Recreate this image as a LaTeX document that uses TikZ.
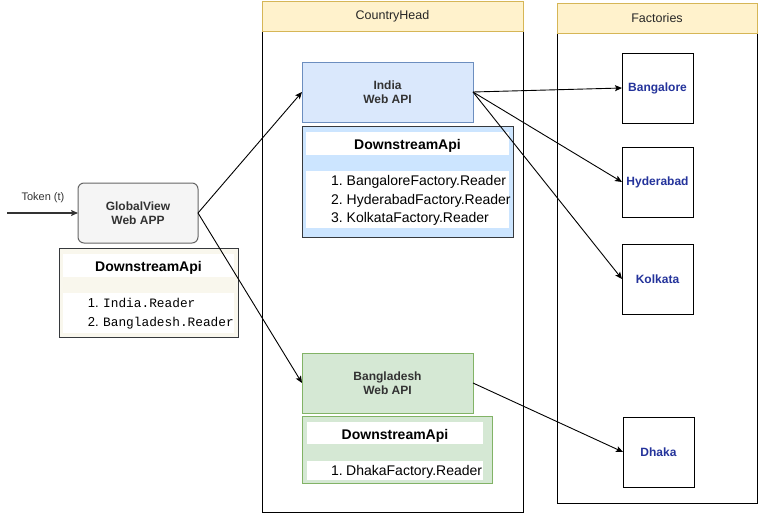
\documentclass[tikz,border=0pt]{standalone}
\usepackage{fontspec}
\setmainfont{Liberation Sans}
\newfontfamily\monof{Liberation Mono}
\usetikzlibrary{arrows.meta}
\definecolor{hdrfill}{HTML}{FFF2CC}
\definecolor{hdrline}{HTML}{D6B656}
\definecolor{gvfill}{HTML}{F5F5F5}
\definecolor{gvline}{HTML}{666666}
\definecolor{gvtext}{HTML}{333333}
\definecolor{beige}{HTML}{F9F7ED}
\definecolor{darkline}{HTML}{36393D}
\definecolor{bluefill}{HTML}{DAE8FC}
\definecolor{blueline}{HTML}{6C8EBF}
\definecolor{bluepanel}{HTML}{CCE5FF}
\definecolor{greenfill}{HTML}{D5E8D4}
\definecolor{greenline}{HTML}{82B366}
\definecolor{factext}{HTML}{24339B}
\tikzset{
  rectbox/.style={anchor=north west, inner sep=0pt, outer sep=0pt, line width=1pt},
  strip/.style={anchor=north west, inner sep=0pt, outer sep=0pt, fill=white, draw=none},
  lbl/.style={inner sep=0pt, align=center, font=\fontsize{12}{14}\selectfont\bfseries},
  hdrtxt/.style={inner sep=0pt, font=\fontsize{12.5}{14}\selectfont, text=black!85},
  dsapi/.style={inner sep=0pt, font=\fontsize{14}{16}\selectfont\bfseries},
  itemnum/.style={inner sep=0pt, anchor=mid east, font=\fontsize{14}{16}\selectfont},
  itemtxt/.style={inner sep=0pt, anchor=mid west, font=\fontsize{14}{16}\selectfont},
  facbox/.style={rectbox, draw=black, fill=white, minimum width=71pt, minimum height=70pt},
  factxt/.style={inner sep=0pt, text=factext, font=\fontsize{12}{14}\selectfont\bfseries},
  arr/.style={-{Stealth[length=7pt,width=6pt,inset=1.5pt]}, line width=0.9pt, draw=black}
}
\begin{document}
\begin{tikzpicture}[x=1pt,y=-1pt]
\useasboundingbox (0,0) rectangle (758,514);

% Swimlane CountryHead
\node[rectbox, draw=black, fill=white, minimum width=261pt, minimum height=481pt] (chbody) at (262,31) {};
\node[rectbox, draw=hdrline, fill=hdrfill, minimum width=261pt, minimum height=30pt] (chhead) at (262,1) {};
\node[hdrtxt] (chtxt) at (chhead.center) {CountryHead};

% Swimlane Factories
\node[rectbox, draw=black, fill=white, minimum width=200pt, minimum height=470pt] (fbody) at (557,33) {};
\node[rectbox, draw=hdrline, fill=hdrfill, minimum width=200pt, minimum height=30pt] (fhead) at (557,3) {};
\node[hdrtxt] (ftxt) at (fhead.center) {Factories};

% GlobalView
\node[rectbox, draw=gvline, fill=gvfill, rounded corners=6pt, minimum width=120pt, minimum height=60pt] (gv) at (78,183) {};
\node[lbl, text=gvtext] (gvt) at (gv.center) {GlobalView\\Web APP};

% GlobalView panel
\node[rectbox, draw=darkline, fill=beige, minimum width=179pt, minimum height=89pt] (gvp) at (59,248) {};
\node[strip, minimum width=171pt, minimum height=23pt] (gvph) at (63,254) {};
\node[dsapi] (gvpht) at ([yshift=-2.5pt]gvph.center) {DownstreamApi};
\node[strip, minimum width=171pt, minimum height=40pt] (gvpl) at (63,293) {};
\node[itemnum, font=\fontsize{13}{15}\selectfont] (gvn1) at (99,304.5) {1.};
\node[itemtxt, font=\fontsize{12.8}{15}\selectfont\monof] (gvi1) at (103,304.5) {India.Reader};
\node[itemnum, font=\fontsize{13}{15}\selectfont] (gvn2) at (99,323.5) {2.};
\node[itemtxt, font=\fontsize{12.8}{15}\selectfont\monof] (gvi2) at (103,323.5) {Bangladesh.Reader};

% Token
\coordinate (tok) at (7,213);
\node[inner sep=0pt, font=\fontsize{11}{13}\selectfont, text=gvtext] (toktxt) at (43,197.5) {Token (t)};

% India
\node[rectbox, draw=blueline, fill=bluefill, minimum width=171pt, minimum height=60pt] (india) at (302,62) {};
\node[lbl, text=gvtext] (indiat) at (india.center) {India\\Web API};
\node[rectbox, draw=darkline, fill=bluepanel, minimum width=211pt, minimum height=111pt] (inp) at (302,126) {};
\node[strip, minimum width=203pt, minimum height=23pt] (inph) at (306,132) {};
\node[dsapi] (inpht) at ([yshift=-2.5pt]inph.center) {DownstreamApi};
\node[strip, minimum width=203pt, minimum height=57pt] (inpl) at (306,171) {};
\node[itemnum] (inn1) at (343,183) {1.};
\node[itemtxt] (ini1) at (346.5,183) {BangaloreFactory.Reader};
\node[itemnum] (inn2) at (343,201.5) {2.};
\node[itemtxt] (ini2) at (346.5,201.5) {HyderabadFactory.Reader};
\node[itemnum] (inn3) at (343,220) {3.};
\node[itemtxt] (ini3) at (346.5,220) {KolkataFactory.Reader};

% Bangladesh
\node[rectbox, draw=greenline, fill=greenfill, minimum width=171pt, minimum height=60pt] (bd) at (302,353) {};
\node[lbl, text=gvtext] (bdt) at (bd.center) {Bangladesh\\Web API};
\node[rectbox, draw=greenline, fill=greenfill, minimum width=190pt, minimum height=67pt] (bdp) at (302,416) {};
\node[strip, minimum width=176pt, minimum height=22pt] (bdph) at (307,422) {};
\node[dsapi] (bdpht) at ([yshift=-2.5pt]bdph.center) {DownstreamApi};
\node[strip, minimum width=176pt, minimum height=19pt] (bdpl) at (307,461) {};
\node[itemnum] (bdn1) at (343,472.5) {1.};
\node[itemtxt] (bdi1) at (346,472.5) {DhakaFactory.Reader};

% Factories
\node[facbox] (blr) at (622,53) {};
\node[factxt] (blrt) at (blr.center) {Bangalore};
\node[facbox] (hyd) at (622,147) {};
\node[factxt] (hydt) at (hyd.center) {Hyderabad};
\node[facbox] (kol) at (622,244) {};
\node[factxt] (kolt) at (kol.center) {Kolkata};
\node[facbox] (dhk) at (623,417) {};
\node[factxt] (dhkt) at (dhk.center) {Dhaka};

% Connectors
\draw[arr, draw=gvtext, line width=1.2pt] (tok) -- (gv.west);
\draw[arr] (gv.east) -- (india.west);
\draw[arr] (gv.east) -- (bd.west);
\draw[arr] (india.east) -- (blr.west);
\draw[arr] (india.east) -- (hyd.west);
\draw[arr] (india.east) -- (kol.west);
\draw[arr] (bd.east) -- (dhk.west);
\end{tikzpicture}
\end{document}
